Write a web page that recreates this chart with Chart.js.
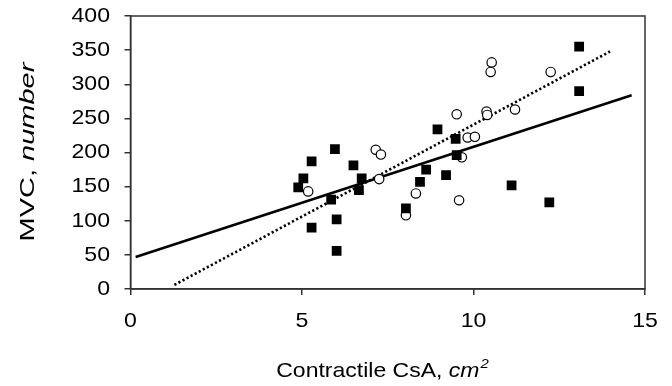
<!DOCTYPE html>
<html>
<head>
<meta charset="utf-8">
<script src="https://cdn.jsdelivr.net/npm/chart.js@4/dist/chart.umd.min.js"></script>
<style>
  html, body { margin: 0; padding: 0; background: #fff; }
  #wrap { width: 672px; height: 386px; }
</style>
</head>
<body>
<div id="wrap"><canvas id="chart" width="672" height="386"></canvas></div>
<script>
// filled squares
const squareX = [5.96, 5.28, 6.5, 5.04, 4.89, 6.74, 6.66, 5.85, 6.01, 5.28, 6.01, 8.03, 8.95, 9.48, 9.51, 8.62, 9.2, 8.44, 11.11, 12.21, 13.08, 13.08]
const squareY = [205, 187, 181, 162, 149, 162, 145, 131, 102, 90, 56, 118, 234, 220, 196, 175, 167, 157, 152, 127, 355, 290]

// open circles
const circleX = [7.15, 7.3, 5.18, 7.25, 8.03, 10.53, 10.5, 12.25, 9.51, 10.38, 10.4, 11.21, 9.83, 10.04, 9.66, 8.32, 9.58]
const circleY = [204, 197, 143, 161, 108, 332, 318, 318, 256, 260, 255, 263, 222, 223, 193, 140, 130]

// trend lines (end points)
const solidLineX = [0.15, 14.61]
const solidLineY = [47, 284]
const dottedLineX = [1.28, 13.98]
const dottedLineY = [6, 348]

const xTicks = [0, 5, 10, 15]
const yTicks = [0, 50, 100, 150, 200, 250, 300, 350, 400]

const toPoints = (xs, ys) => xs.map((x, i) => ({ x, y: ys[i] }))

const axisColor = '#333'
const fontFamily = '"Liberation Sans", Arial, Helvetica, sans-serif'

// the original text is a bit stretched, so labels and titles are drawn by hand
function stretchedText (ctx, parts, x, y, sx, sy, rot, align) {
  ctx.save()
  ctx.translate(x, y)
  if (rot) ctx.rotate(rot)
  ctx.scale(sx, sy)
  let total = 0
  parts.forEach(p => { ctx.font = p.font; p.w = ctx.measureText(p.text).width; total += p.w })
  let cx = align === 'right' ? -total : align === 'left' ? 0 : -total / 2
  ctx.textBaseline = 'middle'
  ctx.textAlign = 'left'
  parts.forEach(p => {
    ctx.font = p.font
    ctx.fillText(p.text, cx + (p.dx || 0), p.dy || 0)
    cx += p.w + (p.dx || 0)
  })
  ctx.restore()
}

const textPlugin = {
  id: 'texts',
  afterDraw (chart) {
    const { ctx, chartArea, scales } = chart
    ctx.save()
    ctx.strokeStyle = axisColor
    ctx.lineWidth = 1.5
    ctx.strokeRect(chartArea.left, chartArea.top, chartArea.right - chartArea.left, chartArea.bottom - chartArea.top)
    ctx.fillStyle = '#000'

    const tickFont = '21px ' + fontFamily
    xTicks.forEach(v => {
      stretchedText(ctx, [{ text: String(v), font: tickFont }], scales.x.getPixelForValue(v), 321, 1.1, 1, 0, 'center')
    })
    yTicks.forEach(v => {
      stretchedText(ctx, [{ text: String(v), font: tickFont }], 110, scales.y.getPixelForValue(v), 1.1, 1, 0, 'right')
    })

    const normal = '20px ' + fontFamily
    const italic = 'italic 20px ' + fontFamily
    stretchedText(ctx, [
      { text: 'Contractile CsA, ', font: normal },
      { text: 'cm', font: italic },
      { text: '2', font: 'italic 13px ' + fontFamily, dx: 1, dy: -7 }
    ], 382, 371, 1.15, 1.02, 0, 'center')

    stretchedText(ctx, [
      { text: 'MVC, ', font: '21px ' + fontFamily },
      { text: 'number', font: 'italic 21px ' + fontFamily }
    ], 28, 152, 1.38, 1, -Math.PI / 2, 'center')
    ctx.restore()
  }
}

new Chart(document.getElementById('chart'), {
  type: 'scatter',
  data: {
    datasets: [
      {
        label: 'squares',
        data: toPoints(squareX, squareY),
        pointStyle: 'rect',
        pointRadius: 6.9,
        backgroundColor: '#000',
        borderColor: '#000',
        borderWidth: 0,
        order: 1
      },
      {
        label: 'circles',
        data: toPoints(circleX, circleY),
        pointStyle: 'circle',
        pointRadius: 4.7,
        backgroundColor: '#fff',
        borderColor: '#000',
        borderWidth: 1.2,
        order: 2
      },
      {
        label: 'solid',
        type: 'line',
        data: toPoints(solidLineX, solidLineY),
        borderColor: '#000',
        borderWidth: 2.6,
        pointRadius: 0,
        fill: false,
        order: 3
      },
      {
        label: 'dotted',
        type: 'line',
        data: toPoints(dottedLineX, dottedLineY),
        borderColor: '#000',
        borderWidth: 2.6,
        borderDash: [2.2, 2.4],
        pointRadius: 0,
        fill: false,
        order: 4
      }
    ]
  },
  options: {
    responsive: false,
    animation: false,
    layout: { padding: { top: 16, right: 27, left: 0, bottom: 0 } },
    plugins: {
      legend: { display: false },
      tooltip: { enabled: false }
    },
    scales: {
      x: {
        type: 'linear',
        min: 0,
        max: 15,
        afterFit: s => { s.height = 97 },
        afterBuildTicks: s => { s.ticks = xTicks.map(v => ({ value: v })) },
        grid: { display: true, drawOnChartArea: false, tickLength: 6, color: axisColor, lineWidth: 1.5 },
        border: { display: true, color: axisColor, width: 1.5 },
        ticks: { display: false }
      },
      y: {
        type: 'linear',
        min: 0,
        max: 400,
        afterFit: s => { s.width = 130.5 },
        afterBuildTicks: s => { s.ticks = yTicks.map(v => ({ value: v })) },
        grid: { display: true, drawOnChartArea: false, tickLength: 6, color: axisColor, lineWidth: 1.5 },
        border: { display: true, color: axisColor, width: 1.5 },
        ticks: { display: false }
      }
    }
  },
  plugins: [textPlugin]
})
</script>
</body>
</html>
